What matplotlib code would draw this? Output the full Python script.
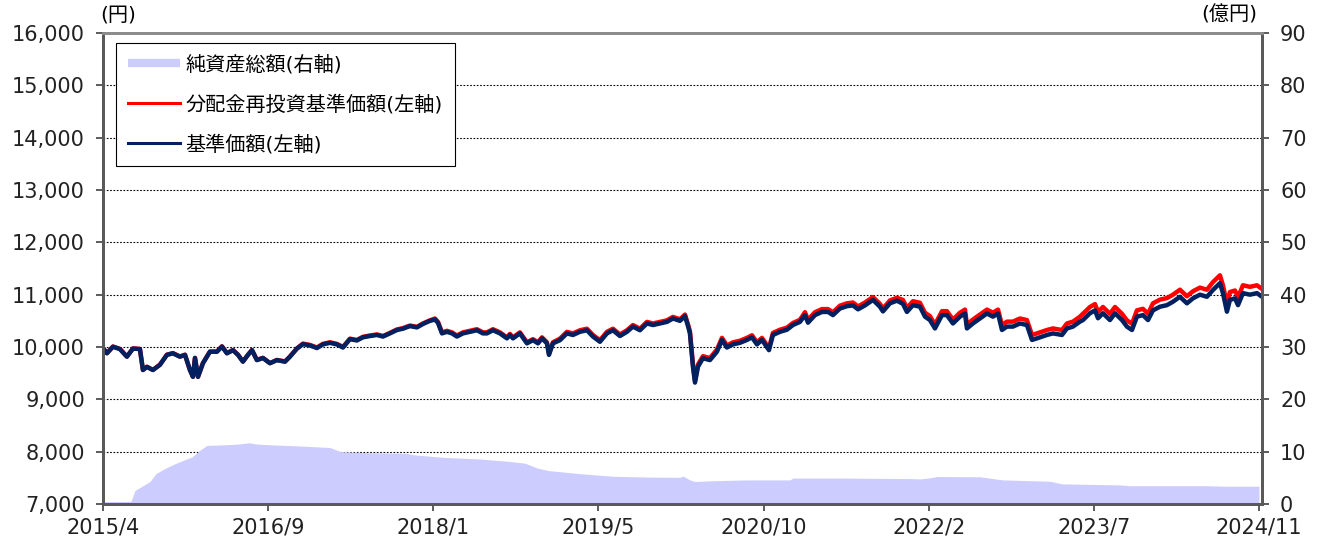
import numpy as np
import matplotlib
matplotlib.use("Agg")
import matplotlib.pyplot as plt
from matplotlib.lines import Line2D

plt.rcParams['font.family'] = ['DejaVu Sans', 'Noto Sans CJK JP']

# 日付(西暦の小数表示)
dates = [
    2015.290, 2015.323, 2015.373, 2015.431, 2015.489, 2015.539, 2015.597, 2015.622, 2015.655, 2015.705,
    2015.763, 2015.821, 2015.871, 2015.929, 2015.971, 2016.012, 2016.037, 2016.054, 2016.079, 2016.120,
    2016.178, 2016.236, 2016.278, 2016.319, 2016.369, 2016.411, 2016.452, 2016.494, 2016.527, 2016.568,
    2016.618, 2016.676, 2016.734, 2016.801, 2016.842, 2016.900, 2016.950, 2017.008, 2017.066, 2017.116,
    2017.174, 2017.232, 2017.282, 2017.340, 2017.398, 2017.448, 2017.506, 2017.564, 2017.614, 2017.672,
    2017.730, 2017.780, 2017.838, 2017.896, 2017.946, 2018.004, 2018.046, 2018.071, 2018.104, 2018.145,
    2018.187, 2018.228, 2018.278, 2018.336, 2018.394, 2018.444, 2018.477, 2018.527, 2018.585, 2018.643,
    2018.668, 2018.693, 2018.751, 2018.809, 2018.859, 2018.901, 2018.934, 2018.975, 2018.992, 2019.025,
    2019.083, 2019.141, 2019.191, 2019.249, 2019.307, 2019.357, 2019.415, 2019.473, 2019.523, 2019.581,
    2019.639, 2019.689, 2019.747, 2019.805, 2019.855, 2019.913, 2019.971, 2020.021, 2020.079, 2020.121,
    2020.146, 2020.162, 2020.187, 2020.204, 2020.229, 2020.270, 2020.328, 2020.386, 2020.428, 2020.469,
    2020.519, 2020.577, 2020.635, 2020.677, 2020.718, 2020.760, 2020.818, 2020.851, 2020.909, 2020.967,
    2021.017, 2021.075, 2021.117, 2021.142, 2021.200, 2021.258, 2021.308, 2021.349, 2021.407, 2021.465,
    2021.515, 2021.557, 2021.615, 2021.681, 2021.739, 2021.764, 2021.822, 2021.880, 2021.930, 2021.963,
    2022.013, 2022.071, 2022.113, 2022.154, 2022.196, 2022.254, 2022.295, 2022.345, 2022.403, 2022.445,
    2022.461, 2022.511, 2022.569, 2022.627, 2022.677, 2022.719, 2022.752, 2022.793, 2022.843, 2022.901,
    2022.959, 2023.001, 2023.042, 2023.125, 2023.175, 2023.250, 2023.291, 2023.341, 2023.399, 2023.424,
    2023.482, 2023.524, 2023.549, 2023.590, 2023.648, 2023.690, 2023.748, 2023.789, 2023.831, 2023.872,
    2023.922, 2023.964, 2024.005, 2024.063, 2024.121, 2024.171, 2024.229, 2024.287, 2024.337, 2024.395,
    2024.453, 2024.503, 2024.561, 2024.586, 2024.619, 2024.644, 2024.686, 2024.711, 2024.752, 2024.810,
    2024.868, 2024.910,
]

# 基準価額(円)
nav = [
    9980, 9880, 10006, 9960, 9815, 9970, 9960, 9560, 9620, 9560,
    9660, 9850, 9880, 9815, 9850, 9560, 9430, 9790, 9430, 9690,
    9910, 9910, 10010, 9880, 9940, 9850, 9720, 9850, 9940, 9750,
    9790, 9690, 9750, 9720, 9815, 9970, 10055, 10030, 9980, 10050,
    10080, 10050, 9990, 10150, 10125, 10185, 10210, 10230, 10200, 10260,
    10325, 10350, 10400, 10375, 10440, 10500, 10525, 10460, 10260, 10290,
    10260, 10200, 10260, 10290, 10320, 10260, 10260, 10320, 10260, 10165,
    10230, 10165, 10260, 10070, 10130, 10070, 10165, 10070, 9850, 10070,
    10130, 10260, 10230, 10290, 10320, 10200, 10100, 10260, 10320, 10210,
    10290, 10390, 10320, 10450, 10420, 10450, 10480, 10545, 10500, 10590,
    10400, 10260, 9625, 9320, 9625, 9785, 9750, 9910, 10135, 9990,
    10050, 10080, 10135, 10185, 10050, 10135, 9940, 10230, 10290, 10330,
    10420, 10480, 10610, 10465, 10610, 10670, 10670, 10610, 10735, 10780,
    10795, 10720, 10795, 10900, 10770, 10680, 10835, 10885, 10825, 10670,
    10800, 10770, 10580, 10515, 10355, 10610, 10610, 10450, 10580, 10640,
    10355, 10450, 10545, 10640, 10580, 10640, 10325, 10390, 10390, 10450,
    10420, 10135, 10165, 10230, 10260, 10230, 10355, 10390, 10485, 10515,
    10645, 10700, 10550, 10645, 10515, 10645, 10515, 10390, 10325, 10580,
    10610, 10515, 10700, 10770, 10800, 10865, 10960, 10835, 10930, 11000,
    10960, 11090, 11220, 11030, 10675, 10900, 10930, 10800, 11030, 11000,
    11030, 10960,
]

# 分配金再投資基準価額(円)
nav_reinvest = [
    9983, 9883, 10009, 9963, 9818, 9973, 9963, 9563, 9623, 9563,
    9663, 9853, 9883, 9818, 9853, 9563, 9433, 9793, 9433, 9693,
    9913, 9913, 10013, 9883, 9943, 9853, 9723, 9853, 9943, 9753,
    9793, 9693, 9753, 9723, 9818, 9973, 10065, 10040, 9990, 10060,
    10090, 10060, 10000, 10160, 10135, 10195, 10220, 10240, 10210, 10270,
    10335, 10360, 10410, 10385, 10450, 10510, 10545, 10480, 10280, 10310,
    10280, 10220, 10280, 10310, 10340, 10280, 10280, 10340, 10280, 10185,
    10250, 10185, 10280, 10090, 10150, 10090, 10185, 10090, 9870, 10090,
    10160, 10290, 10260, 10320, 10350, 10230, 10130, 10290, 10350, 10240,
    10320, 10420, 10350, 10480, 10450, 10480, 10510, 10575, 10530, 10620,
    10430, 10300, 9665, 9360, 9665, 9825, 9790, 9950, 10175, 10030,
    10090, 10120, 10175, 10225, 10090, 10175, 9980, 10270, 10330, 10370,
    10460, 10520, 10665, 10520, 10665, 10725, 10725, 10665, 10790, 10835,
    10850, 10775, 10850, 10955, 10825, 10735, 10890, 10940, 10900, 10745,
    10875, 10845, 10655, 10590, 10430, 10685, 10685, 10525, 10655, 10715,
    10430, 10525, 10620, 10715, 10655, 10715, 10420, 10485, 10485, 10545,
    10515, 10230, 10260, 10325, 10355, 10325, 10450, 10485, 10580, 10635,
    10765, 10820, 10670, 10765, 10635, 10765, 10635, 10510, 10445, 10700,
    10730, 10635, 10835, 10905, 10935, 11000, 11095, 10970, 11065, 11135,
    11095, 11240, 11370, 11180, 10825, 11050, 11080, 10950, 11180, 11150,
    11180, 11110,
]

# 純資産総額(億円)
aum_dates = [
    2015.290, 2015.522, 2015.556, 2015.630, 2015.680, 2015.730, 2015.805, 2015.888, 2015.962, 2016.029,
    2016.095, 2016.153, 2016.286, 2016.411, 2016.502, 2016.568, 2016.693, 2016.917, 2017.174, 2017.265,
    2017.490, 2017.805, 2017.871, 2018.129, 2018.419, 2018.635, 2018.793, 2018.892, 2018.984, 2019.249,
    2019.523, 2019.805, 2020.079, 2020.104, 2020.162, 2020.204, 2020.353, 2020.635, 2020.992, 2021.017,
    2021.465, 2021.739, 2022.013, 2022.071, 2022.154, 2022.212, 2022.569, 2022.760, 2023.150, 2023.250,
    2023.731, 2023.814, 2024.420, 2024.619, 2024.885,
]
aum = [
    0.45, 0.5, 2.6, 3.6, 4.3, 5.8, 6.8, 7.7, 8.4, 9.0,
    10.3, 11.2, 11.3, 11.45, 11.7, 11.45, 11.3, 11.1, 10.8, 10.0,
    9.8, 9.7, 9.4, 8.9, 8.6, 8.2, 7.8, 6.9, 6.4, 5.8,
    5.3, 5.15, 5.1, 5.35, 4.6, 4.3, 4.45, 4.6, 4.6, 4.95,
    4.95, 4.9, 4.85, 4.8, 5.0, 5.25, 5.2, 4.6, 4.35, 3.85,
    3.65, 3.5, 3.5, 3.4, 3.4,
]

tick_labels = ['2015/4', '2016/9', '2018/1', '2019/5', '2020/10', '2022/2', '2023/7', '2024/11']

fig = plt.figure(figsize=(13.18, 5.43), dpi=100)
ax1 = fig.add_axes([0.0781, 0.0718, 0.8794, 0.8674])
ax2 = ax1.twinx()

# 純資産総額(右軸) -> 背面
ax2.fill_between(aum_dates, 0, aum, color='#CCCCFF', linewidth=0, zorder=2)
ax2.set_ylim(0, 90)
ax2.set_yticks(np.arange(0, 91, 10))
ax2.grid(axis='y', color='black', linestyle=(0, (1.5, 1.5)), linewidth=0.8, zorder=1)
ax2.set_axisbelow(True)

# 基準価額(左軸) -> 前面
ax1.set_zorder(ax2.get_zorder() + 1)
ax1.patch.set_visible(False)
ax1.plot(dates, nav_reinvest, color='#FF0000', linewidth=3.2, solid_joinstyle='round')
ax1.plot(dates, nav, color='#002060', linewidth=3.2, solid_joinstyle='round')
ax1.set_ylim(7000, 16000)
ax1.set_yticks(np.arange(7000, 16001, 1000))
ax1.set_yticklabels([f'{v:,}' for v in range(7000, 16001, 1000)])

x0, x1 = dates[0], aum_dates[-1]
ax1.set_xlim(x0, dates[-1])
ax1.set_xticks(np.linspace(x0, x1, len(tick_labels)))
ax1.set_xticklabels(tick_labels)

for ax in (ax1, ax2):
    ax.tick_params(axis='both', direction='out', length=5, width=1.2, color='#404040',
                   labelsize=15, pad=5, labelcolor='#222222')
    for s in ax.spines.values():
        s.set_color('#595959')
        s.set_linewidth(2.0)
    ax.spines['top'].set_color('#8c8c8c')

ax1.tick_params(axis='y', pad=8)
ax2.tick_params(axis='y', pad=8)

fig.text(0.0759, 0.972, '(円)', fontsize=14.5, ha='left', va='center')
fig.text(0.954, 0.972, '(億円)', fontsize=14.5, ha='right', va='center')

handles = [
    Line2D([], [], color='#CCCCFF', linewidth=6, solid_capstyle='butt'),
    Line2D([], [], color='#FF0000', linewidth=2.2),
    Line2D([], [], color='#002060', linewidth=2.2),
]
labels = ['純資産総額(右軸)', '分配金再投資基準価額(左軸)', '基準価額(左軸)']
leg = ax1.legend(handles, labels, loc='upper left', bbox_to_anchor=(0.0112, 0.979),
                 fontsize=14.5, frameon=True, fancybox=False, edgecolor='black',
                 framealpha=1, borderpad=0.6, labelspacing=1.0, handlelength=2.6,
                 handletextpad=0.25, borderaxespad=0)
leg.get_frame().set_linewidth(0.8)

fig.savefig('out.png', dpi=100)
